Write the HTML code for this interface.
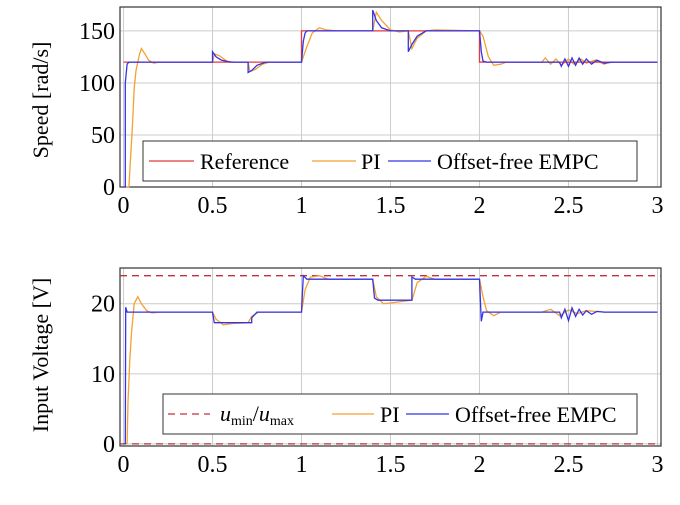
<!DOCTYPE html>
<html><head><meta charset="utf-8"><style>
body{margin:0;background:#fff;width:680px;height:500px;overflow:hidden}
svg{font-family:"Liberation Serif",serif}
</style></head><body>
<svg id="chart" width="680" height="500" xmlns="http://www.w3.org/2000/svg"></svg>
<script>
const xTicks=[0,0.5,1,1.5,2,2.5,3];
const xTickLabels=["0","0.5","1","1.5","2","2.5","3"];
const speedTicks=[0,50,100,150];
const voltTicks=[0,10,20];
const speedRef=[[0,120],[1.0,120],[1.0,150],[2.0,150],[2.0,120],[3,120]];
const speedPI=[[0,0],[0.03,0],[0.04,30],[0.05,60],[0.06,95],[0.07,112],[0.09,128],[0.1,133],[0.12,128],[0.14,122],[0.17,119],[0.2,120],[0.5,120],[0.51,128],[0.54,126],[0.58,121],[0.62,120],[0.7,120],[0.71,111],[0.74,113],[0.78,118],[0.82,120],[1.0,120],[1.03,135],[1.06,148],[1.1,153],[1.14,151],[1.2,150],[1.4,150],[1.42,168],[1.45,160],[1.5,151],[1.55,149],[1.6,150],[1.62,133],[1.65,143],[1.7,150],[1.75,151],[2.0,150],[2.02,145],[2.05,125],[2.08,117],[2.12,118],[2.15,120],[2.35,120],[2.37,124],[2.4,118],[2.43,123],[2.46,117],[2.5,123],[2.53,118],[2.57,123],[2.6,119],[2.65,122],[2.7,118],[2.73,120],[3,120]];
const speedMPC=[[0,0],[0.01,0],[0.01,100],[0.02,118],[0.03,120],[0.5,120],[0.5,130],[0.52,125],[0.55,122],[0.6,120],[0.7,120],[0.7,110],[0.72,112],[0.75,117],[0.8,120],[1.0,120],[1.01,140],[1.02,148],[1.03,150],[1.4,150],[1.4,170],[1.42,160],[1.45,153],[1.5,150],[1.6,150],[1.6,130],[1.62,137],[1.65,145],[1.7,150],[2.0,150],[2.01,130],[2.02,121],[2.04,120],[2.45,120],[2.46,116],[2.48,123],[2.5,116],[2.52,124],[2.54,117],[2.56,124],[2.58,118],[2.6,123],[2.63,118],[2.66,122],[2.7,119],[2.75,120],[3,120]];
const voltLimits=[0,24];
const voltPI=[[0,0],[0.02,0],[0.025,6],[0.035,12],[0.045,16],[0.06,20],[0.08,21],[0.1,20],[0.13,19],[0.16,18.7],[0.2,18.8],[0.5,18.8],[0.52,17.8],[0.56,17.0],[0.62,17.2],[0.7,17.3],[0.72,18.2],[0.76,18.8],[1.0,18.8],[1.02,22],[1.05,23.8],[1.1,24],[1.15,23.5],[1.4,23.5],[1.42,21],[1.46,20],[1.5,20.1],[1.62,20.5],[1.65,23],[1.7,23.9],[1.75,23.5],[2.0,23.5],[2.02,21],[2.04,19],[2.08,18.3],[2.12,18.8],[2.35,18.8],[2.4,19.2],[2.45,18.3],[2.5,19.1],[2.55,18.6],[2.6,19.0],[2.7,18.8],[3,18.8]];
const voltMPC=[[0,0],[0.01,0],[0.012,19.5],[0.02,18.8],[0.5,18.8],[0.51,17.3],[0.72,17.3],[0.72,18.0],[0.75,18.8],[1.0,18.8],[1.01,24],[1.03,23.5],[1.4,23.5],[1.41,20.8],[1.43,20.5],[1.62,20.5],[1.62,23.8],[1.64,23.5],[2.0,23.5],[2.01,17.5],[2.02,18.8],[2.45,18.8],[2.46,18.0],[2.48,19.2],[2.5,17.6],[2.52,19.4],[2.54,18.2],[2.56,19.2],[2.58,18.4],[2.6,19.0],[2.63,18.5],[2.66,18.9],[2.7,18.8],[3,18.8]];

const NS="http://www.w3.org/2000/svg",svg=document.getElementById('chart');
function mk(tag,at,parent){const e=document.createElementNS(NS,tag);for(const k in at)e.setAttribute(k,at[k]);(parent||svg).appendChild(e);return e;}
const X0=120,X1=661,XMIN=-0.02,XMAX=3.02;
const xs=t=>X0+(t-XMIN)/(XMAX-XMIN)*(X1-X0);
function panel(name,top,bot,ymin,ymax,ticks){
  const g=mk('g',{});
  
  
  const ys=v=>bot-(v-ymin)/(ymax-ymin)*(bot-top);
  xTicks.forEach((t,i)=>{const l=mk('line',{x1:xs(t),x2:xs(t),y1:top,y2:bot,stroke:'#ccc','stroke-width':1},g);
    
    const tx=mk('text',{x:xs(t),y:bot+26,'font-size':24,'text-anchor':'middle'},g);tx.textContent=xTickLabels[i];
    });
  ticks.forEach(v=>{const l=mk('line',{x1:X0,x2:X1,y1:ys(v),y2:ys(v),stroke:'#ccc','stroke-width':1},g);
    
    const tx=mk('text',{x:X0-5,y:ys(v)+8,'font-size':24,'text-anchor':'end'},g);tx.textContent=String(v);
    });
  const r=mk('rect',{x:X0,y:top,width:X1-X0,height:bot-top,fill:'none',stroke:'#333','stroke-width':1.2},g);
  
  return {g,ys};
}
function line(p,pts,color,name,dash){
  const d=pts.map((q,i)=>(i?'L':'M')+xs(q[0]).toFixed(1)+' '+p.ys(q[1]).toFixed(1)).join('');
  const e=mk('path',{d,fill:'none',stroke:color,'stroke-width':1.3},p.g);
  if(dash)e.setAttribute('stroke-dasharray',dash);
  
}
const RED='#e23a3a',OR='#f5a030',BL='#3434e6';
const p1=panel('speed-panel',7,187,0,173,speedTicks);
line(p1,speedPI,OR,'speed-pi-line');
line(p1,speedRef,RED,'speed-reference-line');
line(p1,speedMPC,BL,'speed-empc-line');
const p2=panel('voltage-panel',268,446,-0.3,25.1,voltTicks);
voltLimits.forEach(v=>line(p2,[[XMIN,v],[XMAX,v]],'#c03040','voltage-limit-line','7 5'));
line(p2,voltPI,OR,'voltage-pi-line');
line(p2,voltMPC,BL,'voltage-empc-line');
</script>
<svg style="position:absolute;left:0;top:0" width="680" height="500" xmlns="http://www.w3.org/2000/svg" font-family="Liberation Serif, serif">
<g>
<rect x="143" y="141" width="494" height="40" fill="#fff" stroke="#333"/>
<line x1="149" x2="194" y1="161" y2="161" stroke="#e23a3a" stroke-width="1.3"/>
<text x="200" y="169" font-size="22">Reference</text>
<line x1="312" x2="356" y1="161" y2="161" stroke="#f5a030" stroke-width="1.3"/>
<text x="361" y="169" font-size="22">PI</text>
<line x1="388" x2="431" y1="161" y2="161" stroke="#3434e6" stroke-width="1.3"/>
<text x="437" y="169" font-size="22">Offset-free EMPC</text>
</g>
<g>
<rect x="163" y="394" width="474" height="40" fill="#fff" stroke="#333"/>
<line x1="168" x2="210" y1="414" y2="414" stroke="#c03040" stroke-width="1.3" stroke-dasharray="7 5"/>
<text x="220" y="421" font-size="22" font-style="italic">u<tspan font-size="14" font-style="normal" dy="4">min</tspan><tspan dy="-4" font-style="normal">/</tspan>u<tspan font-size="14" font-style="normal" dy="4">max</tspan></text>
<line x1="332" x2="374" y1="414" y2="414" stroke="#f5a030" stroke-width="1.3"/>
<text x="380" y="422" font-size="22">PI</text>
<line x1="406" x2="449" y1="414" y2="414" stroke="#3434e6" stroke-width="1.3"/>
<text x="455" y="422" font-size="22">Offset-free EMPC</text>
</g>
<text transform="translate(48,100) rotate(-90)" font-size="22" text-anchor="middle">Speed [rad/s]</text>
<text transform="translate(48,355) rotate(-90)" font-size="22" text-anchor="middle">Input Voltage [V]</text>
</svg>
</body></html>
